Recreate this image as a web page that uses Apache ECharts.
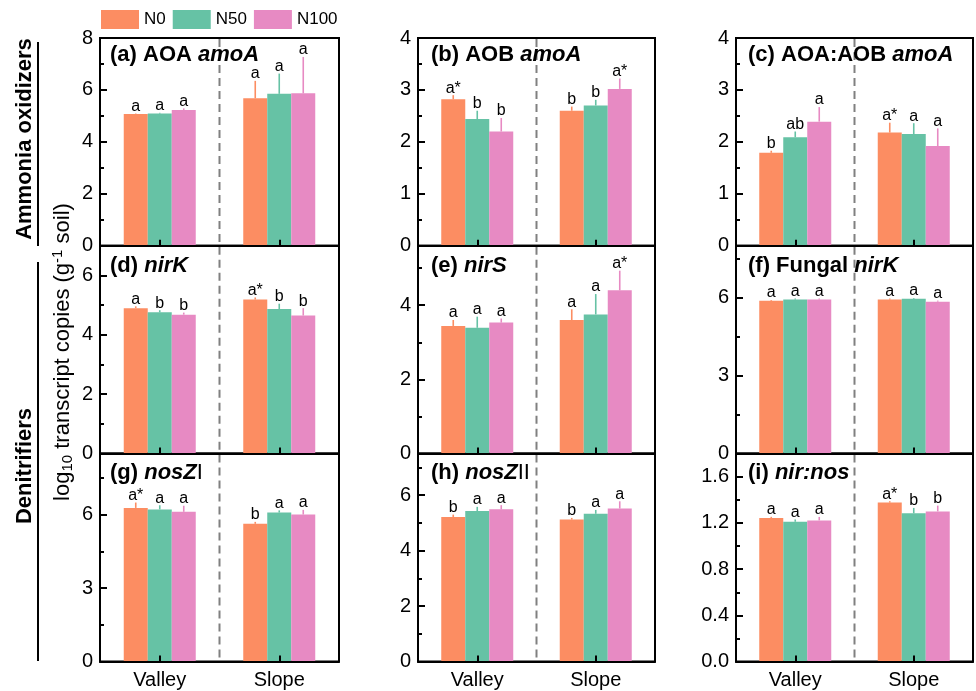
<!DOCTYPE html>
<html><head><meta charset="utf-8">
<script src="https://cdn.jsdelivr.net/npm/echarts@6/dist/echarts.min.js"></script>
<style>html,body{margin:0;padding:0;background:#fff}#c{width:976px;height:691px}</style>
</head><body><div id="c"></div>
<script>
const categories = ['Valley', 'Slope'];
const treatments = ['N0', 'N50', 'N100'];
const colors = ['#FC8D62', '#66C2A5', '#E78AC3'];

// rows: N0, N50, N100 ; columns: Valley, Slope
const meanA = [[5.07, 5.68], [5.09, 5.85], [5.23, 5.87]];
const errA  = [[0.02, 0.67], [0.03, 0.78], [0.06, 1.40]];
const sigA  = [['a', 'a'], ['a', 'a'], ['a', 'a']];
const meanB = [[2.82, 2.60], [2.44, 2.70], [2.20, 3.02]];
const errB  = [[0.08, 0.08], [0.16, 0.11], [0.26, 0.20]];
const sigB  = [['a*', 'b'], ['b', 'b'], ['b', 'a*']];
const meanC = [[1.79, 2.18], [2.09, 2.15], [2.39, 1.92]];
const errC  = [[0.04, 0.19], [0.11, 0.21], [0.28, 0.34]];
const sigC  = [['b', 'a*'], ['ab', 'a'], ['a', 'a']];
const meanD = [[4.90, 5.19], [4.76, 4.87], [4.68, 4.65]];
const errD  = [[0.06, 0.07], [0.07, 0.18], [0.07, 0.25]];
const sigD  = [['a', 'a*'], ['b', 'b'], ['b', 'b']];
const meanE = [[3.44, 3.60], [3.39, 3.75], [3.53, 4.40]];
const errE  = [[0.16, 0.29], [0.30, 0.55], [0.11, 0.53]];
const sigE  = [['a', 'a'], ['a', 'a'], ['a', 'a*']];
const meanF = [[5.88, 5.93], [5.93, 5.96], [5.93, 5.85]];
const errF  = [[0.03, 0.04], [0.04, 0.03], [0.04, 0.04]];
const sigF  = [['a', 'a'], ['a', 'a'], ['a', 'a']];
const meanG = [[6.28, 5.63], [6.22, 6.09], [6.12, 6.01]];
const errG  = [[0.22, 0.08], [0.17, 0.09], [0.25, 0.19]];
const sigG  = [['a*', 'b'], ['a', 'a'], ['a', 'a']];
const meanH = [[5.21, 5.12], [5.43, 5.33], [5.49, 5.52]];
const errH  = [[0.09, 0.06], [0.15, 0.14], [0.15, 0.26]];
const sigH  = [['b', 'b'], ['a', 'a'], ['a', 'a']];
const meanI = [[1.243, 1.376], [1.21, 1.283], [1.222, 1.30]];
const errI  = [[0.01, 0.012], [0.02, 0.047], [0.03, 0.05]];
const sigI  = [['a', 'a*'], ['a', 'b'], ['a', 'b']];

const yMax  = [8, 4, 4, 7, 5.6, 8, 8.5, 7.5, 1.8];
const yStep = [2, 1, 1, 2, 2, 3, 3, 2, 0.4];
const yDecimals = [0, 0, 0, 0, 0, 0, 0, 0, 1];

// title pieces: [style, text]
const titleParts = [
  [['b', '(a) AOA '], ['bi', 'amoA']],
  [['b', '(b) AOB '], ['bi', 'amoA']],
  [['b', '(c) AOA:AOB '], ['bi', 'amoA']],
  [['b', '(d) '], ['bi', 'nirK']],
  [['b', '(e) '], ['bi', 'nirS']],
  [['b', '(f) Fungal '], ['bi', 'nirK']],
  [['b', '(g) '], ['bi', 'nosZ'], ['r', 'I']],
  [['b', '(h) '], ['bi', 'nosZ'], ['r', 'II']],
  [['b', '(i) '], ['bi', 'nir:nos']]
];

const means = [meanA, meanB, meanC, meanD, meanE, meanF, meanG, meanH, meanI];
const errs  = [errA, errB, errC, errD, errE, errF, errG, errH, errI];
const sigs  = [sigA, sigB, sigC, sigD, sigE, sigF, sigG, sigH, sigI];

const FONT = 'Arial, "Liberation Sans", sans-serif';
const colLeft = [100, 418, 736];
const colWidth = [239, 237, 237];
const rowTop = [38, 245.8, 453.6];
const rowHeight = [207.8, 207.8, 208];
const titleDy = [5, 8, 7.5];
const titleDx = [10, 13, 12];
const BAR_W = 24;

const grids = [], xAxes = [], yAxes = [], series = [], titles = [];

for (let k = 0; k < 9; k++) {
  const r = Math.floor(k / 3), c = k % 3;
  grids.push({
    left: colLeft[c], top: rowTop[r], width: colWidth[c], height: rowHeight[r],
    show: true, borderColor: '#000', borderWidth: 2, backgroundColor: 'transparent',
    outerBoundsMode: 'none'
  });
  xAxes.push({
    type: 'category', gridIndex: k, data: categories, z: 5,
    axisLine: { lineStyle: { color: '#000', width: 2 } },
    axisTick: { show: true, inside: true, alignWithLabel: true, length: 6, lineStyle: { color: '#000', width: 2 } },
    axisLabel: { show: r === 2, fontSize: 20, color: '#000', fontFamily: FONT, margin: 9 },
    splitLine: { show: false }
  });
  const dec = yDecimals[k];
  const aligned = Math.abs(yMax[k] / yStep[k] - Math.round(yMax[k] / yStep[k])) < 1e-9;
  yAxes.push({
    type: 'value', gridIndex: k, position: 'left', min: 0, max: yMax[k], interval: yStep[k], z: 5,
    axisLine: { show: true, lineStyle: { color: '#000', width: 2 } },
    axisTick: { show: true, inside: true, length: 7, lineStyle: { color: '#000', width: 2 } },
    axisLabel: { fontSize: 20, color: '#000', fontFamily: FONT, margin: 7, showMaxLabel: aligned,
      formatter: v => v.toFixed(dec) },
    splitLine: { show: false }
  });
  yAxes.push({
    type: 'value', gridIndex: k, position: 'left', min: 0, max: yMax[k], interval: yStep[k] / 2, z: 5,
    axisLine: { show: false },
    axisTick: { show: true, inside: true, length: 4, lineStyle: { color: '#000', width: 2 } },
    axisLabel: { show: false },
    splitLine: { show: false }
  });

  // dashed divider between the two categories
  series.push({
    type: 'custom', name: 'divider', xAxisIndex: k, yAxisIndex: 2 * k, silent: true, z: 1,
    data: [[0, 0]],
    renderItem: function (params, api) {
      const x0 = api.coord([0, 0])[0], x1 = api.coord([1, 0])[0];
      const mid = (x0 + x1) / 2;
      const cs = params.coordSys;
      return {
        type: 'line', shape: { x1: mid, y1: cs.y + 1, x2: mid, y2: cs.y + cs.height - 1 },
        style: { stroke: '#808080', lineWidth: 2, lineDash: [8, 5] }
      };
    }
  });

  for (let s = 0; s < 3; s++) {
    series.push({
      type: 'bar', name: treatments[s], xAxisIndex: k, yAxisIndex: 2 * k,
      data: means[k][s], barWidth: BAR_W, barGap: '0%',
      itemStyle: { color: colors[s] }, z: 2
    });
  }
  for (let s = 0; s < 3; s++) {
    const kk = k, ss = s;
    series.push({
      type: 'custom', name: 'err' + treatments[s], xAxisIndex: k, yAxisIndex: 2 * k, silent: true, z: 3,
      data: categories.map((cat, i) => [i, means[k][s][i]]),
      renderItem: function (params, api) {
        const ci = api.value(0), m = api.value(1);
        const e = errs[kk][ss][ci];
        const base = api.coord([ci, m]);
        const top = api.coord([ci, m + e]);
        const x = base[0] + (ss - 1) * BAR_W;
        return {
          type: 'group', children: [
            { type: 'line', shape: { x1: x, y1: base[1], x2: x, y2: top[1] },
              style: { stroke: colors[ss], lineWidth: 1.6 } },
            { type: 'text', x: x, y: top[1] + 1,
              style: { text: sigs[kk][ss][ci], fill: '#000', font: '16px ' + FONT, align: 'center', verticalAlign: 'bottom' } }
          ]
        };
      }
    });
  }

  titles.push({
    left: colLeft[c] + titleDx[c], top: rowTop[r] + titleDy[r], padding: 0,
    text: titleParts[k].map(p => '{' + p[0] + '|' + p[1] + '}').join(''),
    textStyle: {
      rich: {
        b: { fontSize: 22, fontWeight: 'bold', fontFamily: FONT, color: '#000', lineHeight: 24 },
        bi: { fontSize: 22, fontWeight: 'bold', fontStyle: 'italic', fontFamily: FONT, color: '#000', lineHeight: 24 },
        r: { fontSize: 22, fontWeight: 'normal', fontFamily: FONT, color: '#000', lineHeight: 24 }
      }
    }
  });
}

const chart = echarts.init(document.getElementById('c'), null, { renderer: 'canvas' });
chart.setOption({
  animation: false,
  backgroundColor: '#fff',
  color: colors,
  title: titles,
  legend: {
    data: treatments, left: 101, top: 10, padding: 0, icon: 'rect',
    itemWidth: 38, itemHeight: 19, itemGap: 7,
    textStyle: { fontSize: 17, color: '#000', fontFamily: FONT }
  },
  grid: grids, xAxis: xAxes, yAxis: yAxes, series: series,
  graphic: [
    { type: 'text', x: 25, y: 139, rotation: Math.PI / 2,
      style: { text: 'Ammonia oxidizers', font: 'bold 22px ' + FONT, fill: '#000', align: 'center', verticalAlign: 'middle' } },
    { type: 'line', shape: { x1: 38, y1: 42, x2: 38, y2: 246 }, style: { stroke: '#000', lineWidth: 2 } },
    { type: 'text', x: 25, y: 466, rotation: Math.PI / 2,
      style: { text: 'Denitrifiers', font: 'bold 22px ' + FONT, fill: '#000', align: 'center', verticalAlign: 'middle' } },
    { type: 'line', shape: { x1: 38, y1: 262, x2: 38, y2: 661 }, style: { stroke: '#000', lineWidth: 2 } },
    { type: 'text', x: 63, y: 352, rotation: Math.PI / 2,
      style: {
        text: '{n|log}{s|10}{n| transcript copies (g}{p|-1}{n| soil)}',
        align: 'center', verticalAlign: 'middle',
        rich: {
          n: { fontSize: 22, fontFamily: FONT, fill: '#000', lineHeight: 25 },
          s: { fontSize: 15, fontFamily: FONT, fill: '#000', lineHeight: 15, verticalAlign: 'bottom' },
          p: { fontSize: 15, fontFamily: FONT, fill: '#000', lineHeight: 15, verticalAlign: 'top' }
        }
      } }
  ]
});
</script>
</body></html>
